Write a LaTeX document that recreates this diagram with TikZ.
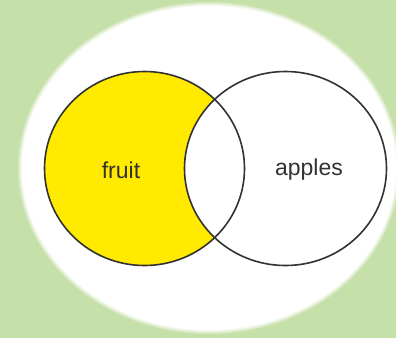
\documentclass[tikz,border=0pt]{standalone}
\usepackage{fontspec}
\setmainfont{Liberation Sans}
\definecolor{bggreen}{RGB}{198,224,170}
\definecolor{setyellow}{RGB}{255,234,0}
\definecolor{rimgray}{RGB}{50,50,50}
\tikzset{
  setrim/.style={draw=rimgray, line width=1.6pt},
  setlabel/.style={text=rimgray, inner sep=0pt, font=\fontsize{23}{28}\selectfont}
}
\begin{document}
\begin{tikzpicture}[x=1pt, y=-1pt]
  \fill[bggreen] (0,0) rectangle (396,338);
  \useasboundingbox (0,0) rectangle (396,338);
  % soft white disc
  \foreach \rd/\sh in {4/25, 3/45, 2/65, 1/85, 0/100}
    \fill[white!\sh!bggreen] (209,168) ellipse ({187+\rd} and {162+\rd});
  \coordinate (fruitc) at (144.5,168.5);
  \coordinate (applec) at (285.5,168.5);
  \fill[setyellow] (fruitc) ellipse (100 and 97);
  \fill[white] (applec) ellipse (101 and 97);
  \draw[setrim] (fruitc) ellipse (100 and 97);
  \draw[setrim] (applec) ellipse (101 and 97);
  \node[setlabel] (fruit) at (121,170) {fruit};
  \node[setlabel] (apples) at (309,170) {apples};
\end{tikzpicture}
\end{document}
